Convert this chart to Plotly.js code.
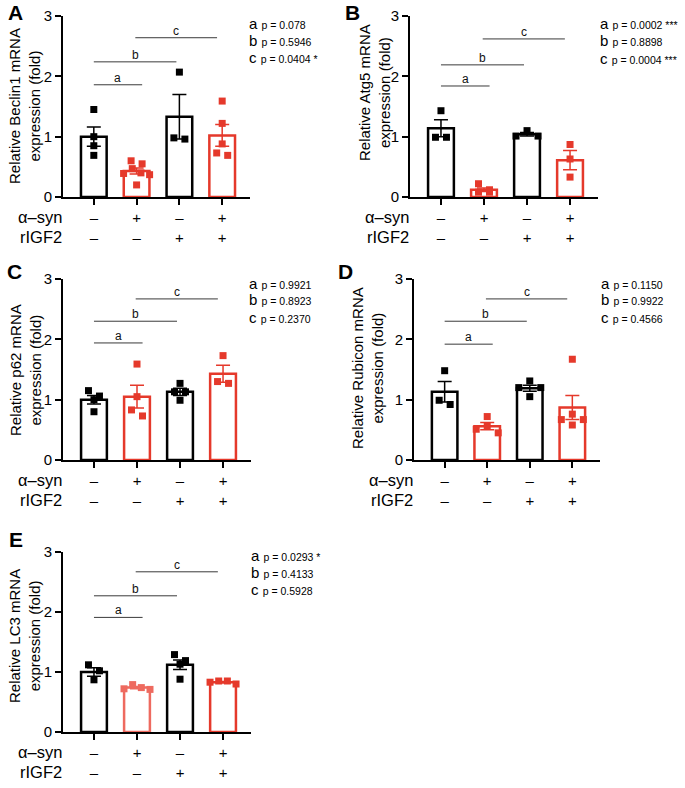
<!DOCTYPE html>
<html>
<head>
<meta charset="utf-8">
<script src="https://cdn.plot.ly/plotly-3.0.1.min.js"></script>
<style>html,body{margin:0;padding:0;background:#fff;}</style>
</head>
<body>
<div id="chart" style="width:685px;height:788px;"></div>
<script>
// ---------------- DATA ----------------
const groups = ['Vehicle', 'α-syn', 'rIGF2', 'α-syn + rIGF2'];
const asynSigns = ['–', '+', '–', '+'];
const rigf2Signs = ['–', '–', '+', '+'];

const beclin1Mean = [1.00, 0.43, 1.33, 1.02];
const beclin1Sem = [0.16, 0.05, 0.37, 0.18];
const beclin1Points = [[1.45, 1.00, 0.85, 0.69], [0.60, 0.55, 0.47, 0.40, 0.39, 0.37, 0.20], [2.07, 0.96, 0.98], [1.59, 1.22, 0.88, 0.73, 0.69]];
const beclin1P = ['0.078', '0.5946', '0.0404 *'];

const atg5Mean = [1.14, 0.12, 1.04, 0.61];
const atg5Sem = [0.14, 0.03, 0.03, 0.16];
const atg5Points = [[1.43, 0.99, 0.99], [0.22, 0.12, 0.08, 0.08], [1.10, 1.01, 1.01], [0.87, 0.63, 0.33]];
const atg5P = ['0.0002 ***', '0.8898', '0.0004 ***'];

const p62Mean = [1.00, 1.05, 1.13, 1.43];
const p62Sem = [0.07, 0.19, 0.06, 0.14];
const p62Points = [[1.15, 1.06, 1.00, 0.80], [1.59, 1.05, 0.83, 0.73], [1.27, 1.13, 1.13, 0.99], [1.73, 1.30, 1.27]];
const p62P = ['0.9921', '0.8923', '0.2370'];

const rubiconMean = [1.13, 0.56, 1.19, 0.87];
const rubiconSem = [0.17, 0.06, 0.05, 0.20];
const rubiconPoints = [[1.48, 0.99, 0.92], [0.72, 0.56, 0.51, 0.45], [1.31, 1.20, 1.20, 1.05], [1.67, 0.76, 0.67, 0.67, 0.58]];
const rubiconP = ['0.1150', '0.9922', '0.4566'];

const lc3Mean = [1.00, 0.74, 1.12, 0.83];
const lc3Sem = [0.07, 0.02, 0.08, 0.01];
const lc3Points = [[1.12, 1.02, 0.87], [0.79, 0.74, 0.72, 0.71], [1.29, 1.19, 1.13, 0.88], [0.85, 0.85, 0.83, 0.80]];
const lc3P = ['0.0293 *', '0.4133', '0.5928'];

const compLetters = ['a', 'b', 'c'];
const yTickVals = [0, 1, 2, 3];

// ---------------- STYLE / LAYOUT ----------------
const W = 685, H = 788;
const FONT = 'Arial, "Liberation Sans", Helvetica, sans-serif';
const BLACK = '#000000', RED = '#e5392b', LIGHTRED = '#ee6a5f';
const fx = p => p / W;
const fy = p => 1 - p / H;
const XR = [-0.72, 3.65];
const bracketX = [[0, 1.13], [0, 1.93], [0.97, 2.88]];

const panels = [
  {letter: 'A', mean: beclin1Mean, sem: beclin1Sem, pts: beclin1Points, p: beclin1P, gene: 'Beclin1',
   colors: [BLACK, RED, BLACK, RED], ax0: 63, ax1: 250, zeroY: 197, topY: 16,
   letterXY: [15, 13], titleXY: [24, 106], pX: 247, pY: [24, 40, 57], br: [1.86, 2.24, 2.64]},
  {letter: 'B', mean: atg5Mean, sem: atg5Sem, pts: atg5Points, p: atg5P, gene: 'Atg5',
   colors: [BLACK, RED, BLACK, RED], ax0: 410, ax1: 598, zeroY: 197, topY: 16,
   letterXY: [352, 13], titleXY: [374, 92], pX: 598, pY: [24, 41, 58], br: [1.84, 2.19, 2.62]},
  {letter: 'C', mean: p62Mean, sem: p62Sem, pts: p62Points, p: p62P, gene: 'p62',
   colors: [BLACK, RED, BLACK, RED], ax0: 63, ax1: 251, zeroY: 460, topY: 279,
   letterXY: [14, 271], titleXY: [25, 370], pX: 247, pY: [283, 300, 317], br: [1.94, 2.30, 2.67]},
  {letter: 'D', mean: rubiconMean, sem: rubiconSem, pts: rubiconPoints, p: rubiconP, gene: 'Rubicon',
   colors: [BLACK, RED, BLACK, RED], ax0: 414, ax1: 600, zeroY: 460, topY: 279,
   letterXY: [345, 271], titleXY: [367, 368], pX: 599, pY: [283, 300, 317], br: [1.92, 2.30, 2.67]},
  {letter: 'E', mean: lc3Mean, sem: lc3Sem, pts: lc3Points, p: lc3P, gene: 'LC3',
   colors: [BLACK, LIGHTRED, BLACK, RED], ax0: 63, ax1: 251, zeroY: 732, topY: 552,
   letterXY: [16, 539], titleXY: [24, 636], pX: 249, pY: [555, 572, 589], br: [1.91, 2.27, 2.67]}
];

// symmetric row-based swarm layout (GraphPad-like), returns x offsets in axis units
function swarm(vals, pxPerY, pxPerX) {
  const order = vals.map((v, i) => i).sort((a, b) => vals[b] - vals[a]);
  const offs = new Array(vals.length).fill(0);
  const rows = [];
  let cur = null;
  for (const i of order) {
    if (cur && (cur.top - vals[i]) * pxPerY < 7) cur.idx.push(i);
    else { cur = {top: vals[i], idx: [i]}; rows.push(cur); }
  }
  rows.forEach(r => {
    const n = r.idx.length;
    const sp = n > 1 ? Math.min(11, 26 / (n - 1)) : 0;
    const slots = [];
    for (let k = 0; k < n; k++) slots.push((k - (n - 1) / 2) * sp);
    slots.sort((a, b) => Math.abs(a) - Math.abs(b) || a - b);
    r.idx.forEach((i, k) => { offs[i] = slots[k] / pxPerX; });
  });
  return offs;
}

const traces = [];
const layout = {
  width: W, height: H,
  margin: {l: 0, r: 0, t: 0, b: 0, pad: 0},
  paper_bgcolor: '#ffffff', plot_bgcolor: 'rgba(0,0,0,0)',
  showlegend: false, barmode: 'overlay',
  font: {family: FONT, color: '#000'},
  annotations: [], shapes: []
};

panels.forEach((P, k) => {
  const n = k + 1;
  const xa = n === 1 ? 'x' : 'x' + n;
  const ya = n === 1 ? 'y' : 'y' + n;
  const xKey = n === 1 ? 'xaxis' : 'xaxis' + n;
  const yKey = n === 1 ? 'yaxis' : 'yaxis' + n;
  const pxPerX = (P.ax1 - P.ax0) / (XR[1] - XR[0]);
  const pxPerY = (P.zeroY - P.topY) / 3;

  layout[xKey] = {
    domain: [fx(P.ax0), fx(P.ax1)], range: XR, anchor: ya, type: 'linear',
    showline: true, linewidth: 2, linecolor: '#000', mirror: false,
    ticks: 'outside', ticklen: 6, tickwidth: 2, tickcolor: '#000',
    tickvals: groups.map((g, i) => i),
    ticktext: groups.map((g, i) => asynSigns[i] + '<br>' + rigf2Signs[i]),
    tickfont: {size: 15, color: '#000', family: FONT},
    showgrid: false, zeroline: false, fixedrange: true
  };
  layout[yKey] = {
    domain: [fy(P.zeroY), fy(P.topY)], range: [0, 3], anchor: xa,
    showline: true, linewidth: 2, linecolor: '#000',
    ticks: 'outside', ticklen: 6, tickwidth: 2, tickcolor: '#000',
    tickvals: yTickVals, tickfont: {size: 15, color: '#000', family: FONT},
    showgrid: false, zeroline: false, fixedrange: true
  };

  // bars with SEM error bars
  P.mean.forEach((m, i) => {
    traces.push({
      type: 'bar', x: [i], y: [m], width: 0.6, xaxis: xa, yaxis: ya,
      marker: {color: '#ffffff', line: {color: P.colors[i], width: 2.5}},
      error_y: {type: 'data', array: [P.sem[i]], visible: true, color: P.colors[i], thickness: 1.5, width: 7},
      hoverinfo: 'skip'
    });
  });
  // individual points
  P.pts.forEach((vals, i) => {
    const offs = swarm(vals, pxPerY, pxPerX);
    traces.push({
      type: 'scatter', mode: 'markers', xaxis: xa, yaxis: ya,
      x: vals.map((v, j) => i + offs[j]), y: vals,
      marker: {symbol: 'square', size: 7, color: P.colors[i], line: {width: 0}},
      cliponaxis: false, hoverinfo: 'skip'
    });
  });

  // comparison brackets
  compLetters.forEach((L, j) => {
    layout.shapes.push({
      type: 'line', xref: xa, yref: ya, x0: bracketX[j][0], x1: bracketX[j][1],
      y0: P.br[j], y1: P.br[j], line: {color: '#3a3a3a', width: 1}
    });
    layout.annotations.push({
      xref: xa, yref: ya, x: (bracketX[j][0] + bracketX[j][1]) / 2, y: P.br[j],
      text: L, showarrow: false, yanchor: 'middle', yshift: 7,
      font: {size: 12, color: '#111', family: FONT}
    });
    // p-value legend
    layout.annotations.push({
      xref: 'paper', yref: 'paper', x: fx(P.pX), y: fy(P.pY[j]),
      xanchor: 'left', yanchor: 'middle', showarrow: false,
      text: L + ' <span style="font-size:10.5px">p = ' + P.p[j] + '</span>',
      font: {size: 15, color: '#000', family: FONT}
    });
  });

  // panel letter
  layout.annotations.push({
    xref: 'paper', yref: 'paper', x: fx(P.letterXY[0]), y: fy(P.letterXY[1]),
    xanchor: 'center', yanchor: 'middle', showarrow: false,
    text: '<b>' + P.letter + '</b>', font: {size: 21, color: '#000', family: FONT}
  });
  // y-axis title
  layout.annotations.push({
    xref: 'paper', yref: 'paper', x: fx(P.titleXY[0]), y: fy(P.titleXY[1]),
    xanchor: 'center', yanchor: 'middle', showarrow: false, textangle: -90,
    text: 'Relative ' + P.gene + ' mRNA<br>expression (fold)',
    font: {size: 15, color: '#000', family: FONT}
  });
  // row labels
  [['α–syn', 20], ['rIGF2', 40]].forEach(([t, dy]) => {
    layout.annotations.push({
      xref: 'paper', yref: 'paper', x: fx(P.ax0 + 1), y: fy(P.zeroY + dy),
      xanchor: 'right', yanchor: 'middle', showarrow: false, text: t,
      font: {size: 16.5, color: '#000', family: FONT}
    });
  });
});

Plotly.newPlot('chart', traces, layout, {staticPlot: true, displayModeBar: false});
</script>
</body>
</html>
